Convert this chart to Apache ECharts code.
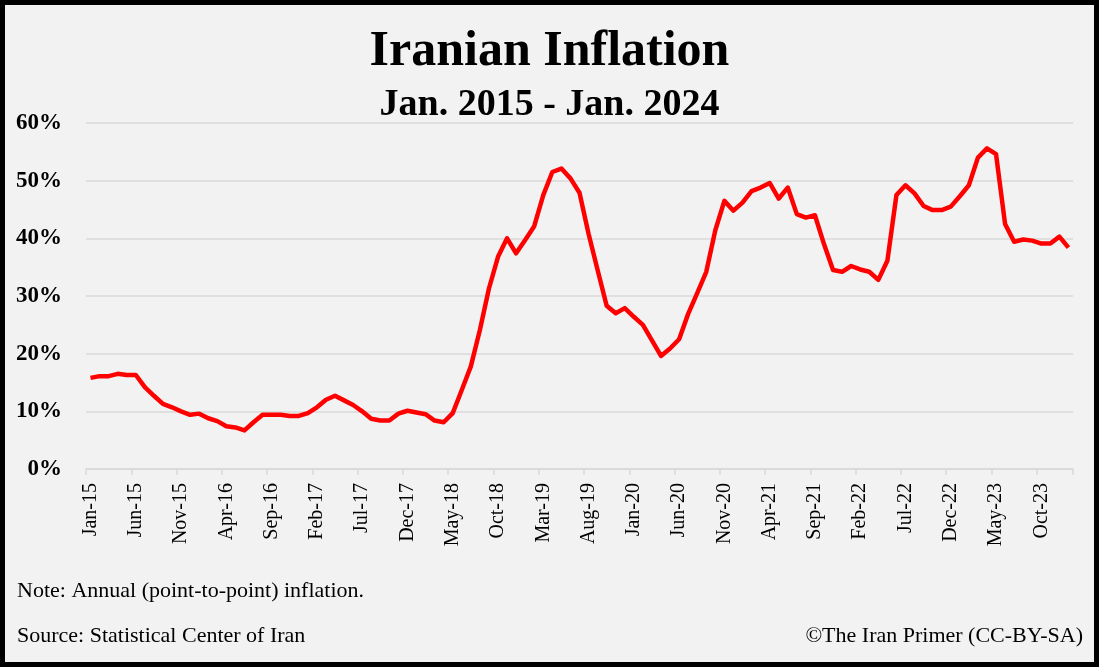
<!DOCTYPE html>
<html>
<head>
<meta charset="utf-8">
<script src="https://cdn.jsdelivr.net/npm/echarts@6/dist/echarts.min.js"></script>
<style>
html,body{margin:0;padding:0;background:#f2f2f2;}
#chart{width:1099px;height:667px;}
</style>
</head>
<body>
<div id="chart"></div>
<script>
const months = ['Jan','Feb','Mar','Apr','May','Jun','Jul','Aug','Sep','Oct','Nov','Dec'];
const years = ['15','16','17','18','19','20','21','22','23','24'];
const categories = [];
years.forEach(function (y) { months.forEach(function (m) { categories.push(m + '-' + y); }); });
categories.length = 109; // Jan-15 .. Jan-24

const inflation = [
  15.8, 16.1, 16.1, 16.5, 16.3, 16.3, 14.2, 12.7, 11.3, 10.7, 10.0, 9.4,
  9.6, 8.8, 8.3, 7.4, 7.2, 6.7, 8.1, 9.4, 9.4, 9.4, 9.2, 9.2,
  9.7, 10.7, 12.0, 12.7, 11.9, 11.1, 10.0, 8.7, 8.4, 8.4, 9.6, 10.1,
  9.8, 9.5, 8.4, 8.1, 9.7, 13.7, 17.8, 24.1, 31.3, 36.8, 40.0, 37.4,
  39.7, 42.1, 47.5, 51.5, 52.1, 50.4, 47.9, 40.8, 34.5, 28.3, 27.0, 27.9,
  26.4, 25.0, 22.3, 19.6, 20.9, 22.5, 26.9, 30.5, 34.2, 41.4, 46.5, 44.8,
  46.2, 48.2, 48.8, 49.6, 46.9, 48.8, 44.2, 43.6, 44.0, 39.0, 34.5, 34.2,
  35.2, 34.6, 34.2, 32.8, 36.1, 47.5, 49.2, 47.8, 45.6, 44.9, 44.9, 45.5,
  47.3, 49.2, 54.0, 55.6, 54.6, 42.5, 39.4, 39.8, 39.6, 39.1, 39.1, 40.3,
  38.4
];

const titleText = 'Iranian Inflation';
const subtitleText = 'Jan. 2015 - Jan. 2024';
const noteText = 'Note: Annual (point-to-point) inflation.';
const sourceText = 'Source: Statistical Center of Iran';
const creditText = '\u00A9The Iran Primer (CC-BY-SA)';

const SERIF = '"Liberation Serif", "Times New Roman", serif';
const chart = echarts.init(document.getElementById('chart'));
chart.setOption({
  backgroundColor: '#f2f2f2',
  animation: false,
  grid: { left: 86, right: 26, top: 123, bottom: 198, containLabel: false },
  xAxis: {
    type: 'category',
    data: categories,
    boundaryGap: true,
    axisLine: { lineStyle: { color: '#d9d9d9', width: 1.5 } },
    axisTick: { show: true, interval: 4, length: 6, lineStyle: { color: '#d9d9d9', width: 1.5 } },
    axisLabel: {
      interval: 4, rotate: 90, margin: 14,
      fontFamily: SERIF, fontSize: 20, color: '#000',
      padding: [0, 0, 9, 0]
    },
    splitLine: { show: false }
  },
  yAxis: {
    type: 'value', min: 0, max: 60, interval: 10,
    axisLine: { show: false }, axisTick: { show: false },
    axisLabel: {
      formatter: '{value}%', margin: 24,
      fontFamily: SERIF, fontSize: 23, fontWeight: 'bold', color: '#000'
    },
    splitLine: { lineStyle: { color: '#d9d9d9', width: 1.5 } }
  },
  series: [{
    type: 'line', data: inflation, showSymbol: false,
    lineStyle: { color: '#ff0000', width: 4.5, join: 'round' },
    itemStyle: { color: '#ff0000' }
  }],
  graphic: [
    { type: 'text', left: 'center', top: 27, style: { text: titleText, font: 'bold 50px ' + SERIF, fill: '#000' } },
    { type: 'text', left: 'center', top: 86, style: { text: subtitleText, font: 'bold 38px ' + SERIF, fill: '#000' } },
    { type: 'text', left: 17, top: 580, style: { text: noteText, font: '22px ' + SERIF, fill: '#000' } },
    { type: 'text', left: 17, top: 625, style: { text: sourceText, font: '22px ' + SERIF, fill: '#000' } },
    { type: 'text', right: 16, top: 625, style: { text: creditText, font: '22px ' + SERIF, fill: '#000' } },
    { type: 'rect', z: 100, shape: { x: 2.5, y: 2.5, width: 1094, height: 662 }, style: { fill: 'none', stroke: '#000', lineWidth: 5 } }
  ]
});
</script>
</body>
</html>
